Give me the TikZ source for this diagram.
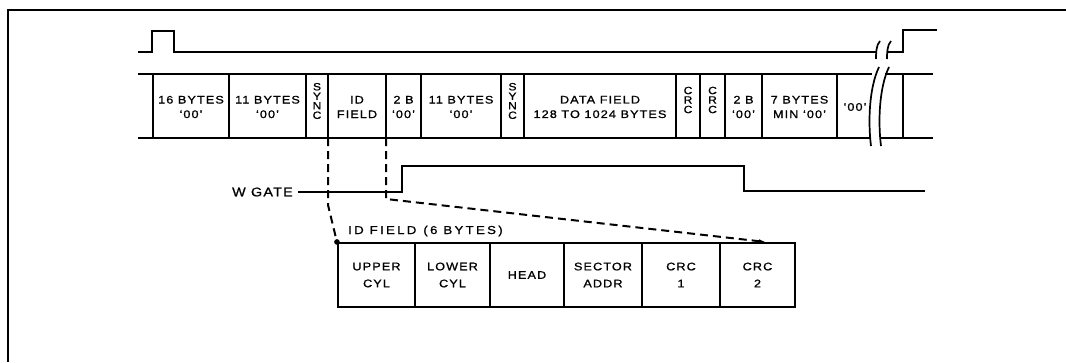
\documentclass[tikz,border=0pt]{standalone}
\usepackage{fontspec}
\setmainfont{Liberation Sans}
\newfontfamily\lsp{Liberation Sans}[FakeStretch=1.15,LetterSpace=10,FakeBold=1]
\usetikzlibrary{arrows.meta}
\begin{document}
\begin{tikzpicture}[x=1pt,y=-1pt,line join=miter,
  sig/.style={line width=2.1pt},
  brk/.style={line width=1.7pt},
  bandtxt/.style={font=\lsp\fontsize{11}{14.5}\selectfont, align=center, inner sep=0pt},
  vtxt/.style={font=\lsp\fontsize{10.5}{9.5}\selectfont, align=center, inner sep=0pt},
  idtxt/.style={font=\lsp\fontsize{11}{17}\selectfont, align=center, inner sep=0pt},
  idbox/.style={draw, line width=2.1pt, minimum height=64pt, inner sep=0pt, idtxt},
  dsh/.style={line width=2pt, dash pattern=on 8pt off 5pt}]
\useasboundingbox (0,0) rectangle (1066,362);
% frame
\draw[sig] (8,362) -- (8,10) -- (1066,10);
% top trace
\draw[sig] (138,52) -- (152,52) -- (152,31) -- (174,31) -- (174,52) -- (876,52);
\draw[sig] (888,52) -- (903,52) -- (903,30) -- (937,30);
\draw[brk] (880,41) .. controls (876,45) and (876,54) .. (876,59);
\draw[brk] (891,41) .. controls (887,45) and (887,54) .. (887,59);
% data band
\draw[sig] (138,74) -- (872,74);
\draw[sig] (138,138) -- (871,138);
\draw[sig] (885,74) -- (933,74);
\draw[sig] (881,138) -- (933,138);
\foreach \x in {153,229,306,328,386,421,501,524,676,700,725,762,837,903}
  \draw[sig] (\x,74) -- (\x,138);
\draw[brk] (879,67) .. controls (869,88) and (868,122) .. (871,146);
\draw[brk] (889,67) .. controls (879,88) and (878,122) .. (881,146);
% band labels
\node[bandtxt] (b1) at (191,107) {16 BYTES\\‘00’};
\node[bandtxt] (b2) at (267.5,107) {11 BYTES\\‘00’};
\node[vtxt] (s1) at (317,101) {S\\Y\\N\\C};
\node[bandtxt] (b3) at (357,107) {ID\\FIELD};
\node[bandtxt] (b4) at (403.5,107) {2 B\\‘00’};
\node[bandtxt] (b5) at (461,107) {11 BYTES\\‘00’};
\node[vtxt] (s2) at (512.5,101) {S\\Y\\N\\C};
\node[bandtxt] (b6) at (600,107) {DATA FIELD\\128 TO 1024 BYTES};
\node[vtxt] (c1) at (688,100) {C\\R\\C};
\node[vtxt] (c2) at (712.5,100) {C\\R\\C};
\node[bandtxt] (b7) at (743.5,107) {2 B\\‘00’};
\node[bandtxt] (b8) at (799.5,107) {7 BYTES\\MIN ‘00’};
\node[bandtxt] (b9) at (855,107) {‘00’};
% W GATE
\node[font=\lsp\fontsize{12.5}{13}\selectfont, anchor=east, inner sep=0pt] (wg) at (293,192) {W GATE};
\draw[sig] (wg.east) ++(5,0) -- (402,192) -- (402,166) -- (744,166) -- (744,191) -- (925,191);
% ID field detail
\node[font=\lsp\fontsize{11.5}{12}\selectfont\addfontfeature{LetterSpace=20}, anchor=base west, inner sep=0pt] (idl) at (348,234) {ID FIELD\hspace{7pt}(6 BYTES)};
\node[idbox, minimum width=77pt] (i1) at (376.5,275) {UPPER\\CYL};
\node[idbox, minimum width=75pt] (i2) at (452.5,275) {LOWER\\CYL};
\node[idbox, minimum width=74pt] (i3) at (527,275) {HEAD};
\node[idbox, minimum width=78pt] (i4) at (603,275) {SECTOR\\ADDR};
\node[idbox, minimum width=78pt] (i5) at (681,275) {CRC\\1};
\node[idbox, minimum width=75pt] (i6) at (757.5,275) {CRC\\2};
% dashed projection
\coordinate (ida) at (328,138);
\coordinate (idb) at (386,138);
\coordinate (idend) at (766,242);
\draw[dsh] (ida) -- (328,205) -- (i1.north west);
\draw[dsh,-{Latex[length=7pt,width=4pt]}] (idb) -- (386,199) -- (idend);
\fill (i1.north west) circle (2.8);
\end{tikzpicture}
\end{document}
